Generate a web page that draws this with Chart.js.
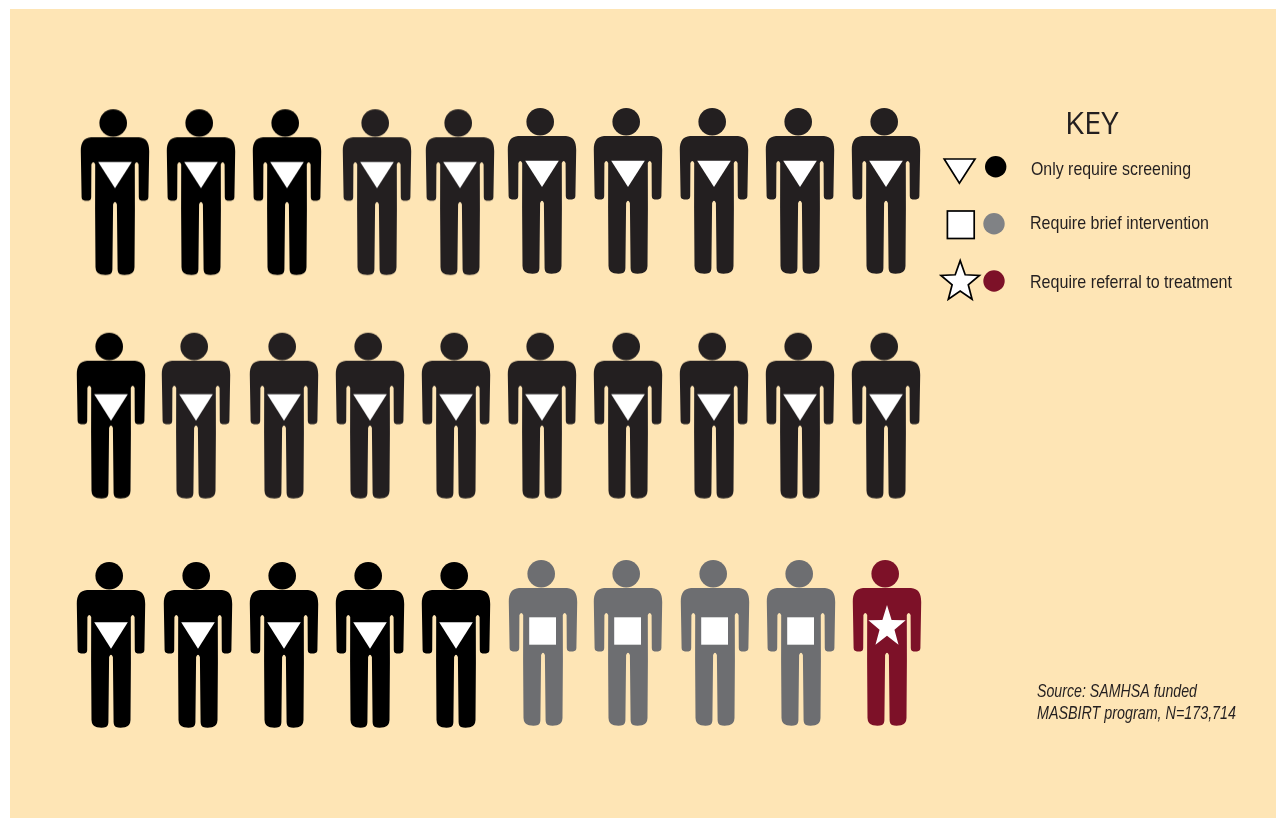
<!DOCTYPE html>
<html>
<head>
<meta charset="utf-8">
<title>Screening outcomes</title>
<script src="https://cdn.jsdelivr.net/npm/chart.js@4"></script>
<style>
    html, body { margin: 0; padding: 0; background: #ffffff; }
    #wrap { position: relative; width: 1276px; height: 818px; overflow: hidden; }
    #panel { position: absolute; left: 10px; top: 9px; right: 0; bottom: 0; background: #fee5b5; }
    canvas { position: absolute; left: 0; top: 0; }
</style>
</head>
<body>
<div id="wrap">
    <div id="panel"></div>
    <canvas id="people" width="1276" height="818"></canvas>
</div>
<script>
// Each figure stands for one in thirty people screened
const categories = ["Only require screening", "Require brief intervention", "Require referral to treatment"];
const figureCounts = [25, 4, 1];
const keyTitle = "KEY";
const sourceLines = ["Source: SAMHSA funded", "MASBIRT program, N=173,714"];

const COLS = 10;
const COL_STEP = 86;
const ROW_STEP = 226;

// The rows were laid out by hand, so figures drift a few px off the grid
const driftX = [
    3, 3, 3, 7, 4, 0, 0, 0, 0, 0,
    -1, -2, 0, 0, 0, 0, 0, 0, 0, 0,
    -1, 0, 0, 0, 0, 1, 0, 1, 1, 1
];
const driftY = [
    1.2, 1.2, 1.2, 1.2, 1.2, 0, 0, 0, 0, 0,
    -1.3, -1.3, -1.3, -1.3, -1.3, -1.3, -1.3, -1.3, -1.3, -1.3,
    2, 2, 2, 2, 2, 0, 0, 0, 0, 0
];
// Some of the screening figures print pure black, the rest a softer black
const pureBlackSeats = [0, 1, 2, 10, 20, 21, 22, 23, 24];
// The triangle sits at a different height on the body in each row
const triangleTopByRow = [52.7, 61.6, 60.3];

const INK = "#231f20";
const BLACK = "#000000";
const GREY = "#6d6e71";
const MAROON = "#7d1128";

function starPath(ctx, cx, cy, rx, ry, inner) {
    ctx.beginPath();
    for (let i = 0; i < 10; i++) {
        const k = i % 2 === 0 ? 1 : inner;
        const a = -Math.PI / 2 + i * Math.PI / 5;
        ctx.lineTo(cx + Math.cos(a) * rx * k, cy + Math.sin(a) * ry * k);
    }
    ctx.closePath();
}

function bodyPath(ctx) {
    ctx.beginPath();
    ctx.moveTo(-24, 28);
    ctx.lineTo(24, 28);
    ctx.bezierCurveTo(31, 28.5, 34.2, 33, 34.2, 42);
    ctx.lineTo(33.4, 88);
    ctx.quadraticCurveTo(33.2, 91.2, 30, 91.4);
    ctx.lineTo(26.5, 91.4);
    ctx.quadraticCurveTo(23.9, 91.2, 23.8, 88);
    ctx.lineTo(23.6, 55);
    ctx.quadraticCurveTo(21.7, 50.8, 19.8, 55);
    ctx.lineTo(19.9, 100);
    ctx.lineTo(19.5, 158);
    ctx.quadraticCurveTo(19.3, 164, 14, 165.3);
    ctx.quadraticCurveTo(8, 166.2, 5, 164.9);
    ctx.quadraticCurveTo(2.7, 164, 2.6, 160);
    ctx.lineTo(1.9, 95);
    ctx.quadraticCurveTo(0, 90.5, -1.9, 95);
    ctx.lineTo(-2.6, 160);
    ctx.quadraticCurveTo(-2.7, 164, -5, 164.9);
    ctx.quadraticCurveTo(-8, 166.2, -14, 165.3);
    ctx.quadraticCurveTo(-19.3, 164, -19.5, 158);
    ctx.lineTo(-19.9, 100);
    ctx.lineTo(-19.8, 55);
    ctx.quadraticCurveTo(-21.7, 50.8, -23.6, 55);
    ctx.lineTo(-23.8, 88);
    ctx.quadraticCurveTo(-23.9, 91.2, -26.5, 91.4);
    ctx.lineTo(-30, 91.4);
    ctx.quadraticCurveTo(-33.2, 91.2, -33.4, 88);
    ctx.lineTo(-34.2, 42);
    ctx.bezierCurveTo(-34.2, 33, -31, 28.5, -24, 28);
    ctx.closePath();
}

// Builds one person glyph as a canvas that Chart.js can use as a pointStyle
function makeFigure(color, emblem, triangleTop) {
    const c = document.createElement("canvas");
    c.width = 80;
    c.height = 176;
    const ctx = c.getContext("2d");
    ctx.translate(40, 5);
    ctx.fillStyle = color;
    ctx.beginPath();
    ctx.arc(-1.8, 13.8, 13.8, 0, Math.PI * 2);
    ctx.fill();
    bodyPath(ctx);
    ctx.fill();

    ctx.fillStyle = "#ffffff";
    if (emblem === "triangle") {
        ctx.beginPath();
        ctx.moveTo(-16.8, triangleTop);
        ctx.lineTo(16.8, triangleTop);
        ctx.lineTo(0, triangleTop + 26.4);
        ctx.closePath();
        ctx.fill();
    } else if (emblem === "square") {
        ctx.fillRect(-13.8, 57.3, 26.8, 27.4);
    } else {
        starPath(ctx, 0, 67, 19.6, 22, 0.4);
        ctx.fill();
    }
    return c;
}

const blackByRow = triangleTopByRow.map(t => makeFigure(BLACK, "triangle", t));
const inkByRow = triangleTopByRow.map(t => makeFigure(INK, "triangle", t));
const greyFigure = makeFigure(GREY, "square");
const maroonFigure = makeFigure(MAROON, "star");

// Seats fill left to right, row by row, one category after the other
let nextSeat = 0;
function takeSeats(count) {
    const pts = [];
    for (let i = 0; i < count; i++) {
        const seat = nextSeat++;
        pts.push({
            x: seat % COLS + driftX[seat] / COL_STEP,
            y: Math.floor(seat / COLS) + driftY[seat] / ROW_STEP
        });
    }
    return pts;
}

const screeningPts = takeSeats(figureCounts[0]);
const briefPts = takeSeats(figureCounts[1]);
const referralPts = takeSeats(figureCounts[2]);

function drawKey(ctx) {
    ctx.save();
    ctx.lineWidth = 1.7;
    ctx.strokeStyle = "#000000";
    ctx.fillStyle = "#ffffff";
    ctx.lineJoin = "miter";

    ctx.beginPath();
    ctx.moveTo(944.2, 159);
    ctx.lineTo(975, 159);
    ctx.lineTo(959.4, 183.2);
    ctx.closePath();
    ctx.fill();
    ctx.stroke();

    ctx.fillRect(947.4, 211, 26.8, 27.5);
    ctx.strokeRect(947.4, 211, 26.8, 27.5);

    starPath(ctx, 960.2, 282, 20.2, 21.4, 0.42);
    ctx.fill();
    ctx.stroke();

    const dots = [[995.7, 166.7, BLACK], [994, 223.7, "#808285"], [994, 281, MAROON]];
    dots.forEach(d => {
        ctx.fillStyle = d[2];
        ctx.beginPath();
        ctx.arc(d[0], d[1], 10.7, 0, Math.PI * 2);
        ctx.fill();
    });

    ctx.fillStyle = INK;
    ctx.textBaseline = "alphabetic";
    ctx.textAlign = "left";
    ctx.font = '31px "Open Sans"';
    ctx.fillText(keyTitle, 1065, 134, 55);

    // fillText's width limit squeezes the sans into a condensed cut
    ctx.font = '19px "Liberation Sans"';
    ctx.fillText(categories[0], 1031, 175, 160);
    ctx.fillText(categories[1], 1030, 229, 179);
    ctx.fillText(categories[2], 1030, 288, 202);

    ctx.font = 'italic 18px "Liberation Sans"';
    ctx.fillText(sourceLines[0], 1037, 697, 160);
    ctx.fillText(sourceLines[1], 1037, 719, 199);
    ctx.restore();
}

const keyPlugin = {
    id: "keyPanel",
    afterDraw(chart) {
        drawKey(chart.ctx);
    }
};

new Chart(document.getElementById("people"), {
    type: "scatter",
    data: {
        datasets: [
            {
                label: categories[0],
                data: screeningPts,
                pointRadius: 10,
                clip: false,
                pointStyle: c => {
                    const seat = c.dataIndex;
                    const row = Math.floor(seat / COLS);
                    return pureBlackSeats.includes(seat) ? blackByRow[row] : inkByRow[row];
                }
            },
            { label: categories[1], data: briefPts, pointRadius: 10, clip: false, pointStyle: greyFigure },
            { label: categories[2], data: referralPts, pointRadius: 10, clip: false, pointStyle: maroonFigure }
        ]
    },
    options: {
        responsive: false,
        animation: false,
        events: [],
        layout: { padding: { left: 112, right: 390, top: 191, bottom: 175 } },
        plugins: {
            legend: { display: false },
            tooltip: { enabled: false }
        },
        scales: {
            x: { type: "linear", display: false, min: 0, max: COLS - 1 },
            y: { type: "linear", display: false, reverse: true, min: 0, max: 2 }
        }
    },
    plugins: [keyPlugin]
});
</script>
</body>
</html>
